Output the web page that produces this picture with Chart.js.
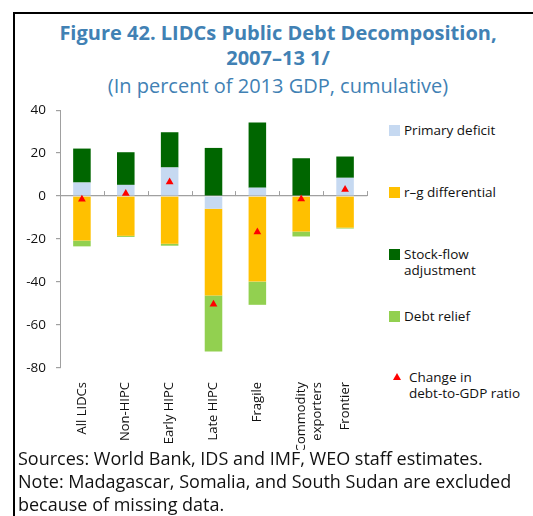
<!DOCTYPE html>
<html>
<head>
<meta charset="utf-8">
<script src="https://cdn.jsdelivr.net/npm/chart.js@4"></script>
<style>
  body { margin: 0; background: #fff; font-family: "Open Sans", sans-serif; }
  #wrap { position: relative; width: 533px; height: 516px; overflow: hidden; }
  #frame { position: absolute; left: 13px; top: 12px; width: 540px; height: 520px;
           border-left: 2px solid #000; border-top: 2px solid #000; }
  .title { position: absolute; left: 13px; width: 530px; text-align: center; color: #4181b4; }
  #t1 { top: 19px; font-size: 20px; font-weight: bold; }
  #t2 { top: 44px; font-size: 20px; font-weight: bold; }
  #t3 { top: 72px; font-size: 20px; }
  #chartBox { position: absolute; left: 0; top: 92px; width: 380px; height: 358px; }
  #legend { position: absolute; left: 389px; top: 122px; width: 140px; font-size: 13.5px; color: #111; }
  .item { position: absolute; left: 0; display: flex; align-items: flex-start; white-space: pre-line; line-height: 16px; }
  .sw { width: 11px; height: 11px; margin: 3px 4px 0 0; flex: none; }
  .tri { width: 0; height: 0; border-left: 4px solid transparent; border-right: 4px solid transparent;
         border-bottom: 7px solid #ff0000; margin: 4px 8px 0 4px; flex: none; }
  #notes { position: absolute; left: 18px; top: 447px; font-size: 18px; line-height: 23px; color: #111; }
</style>
</head>
<body>
<div id="wrap">
  <div id="frame"></div>
  <div class="title" id="t1">Figure 42. LIDCs Public Debt Decomposition,</div>
  <div class="title" id="t2">2007–13 1/</div>
  <div class="title" id="t3">(In percent of 2013 GDP, cumulative)</div>
  <div id="chartBox"><canvas id="c"></canvas></div>
  <div id="legend"></div>
  <div id="notes">Sources: World Bank, IDS and IMF, WEO staff estimates.<br>Note: Madagascar, Somalia, and South Sudan are excluded<br>because of missing data.</div>
</div>
<script>
const categories = ["All LIDCs", "Non-HIPC", "Early HIPC", "Late HIPC", "Fragile", ["Commodity", "exporters"], "Frontier"];
const primaryDeficit = [6.3, 5.2, 13.3, -5.9, 3.9, 0, 8.5];
const rgDifferential = [-20.7, -18.5, -22.2, -40.4, -39.8, -16.5, -14.7];
const stockFlow = [15.8, 15.2, 16.4, 22.4, 30.3, 17.6, 9.9];
const debtRelief = [-2.7, -0.5, -0.9, -26.0, -10.8, -2.3, -0.4];
const debtChange = [-1.5, 1.2, 6.6, -50.3, -16.7, -1.4, 3.1];
const yTicks = [40, 20, 0, -20, -40, -60, -80];

const legendNames = ["Primary deficit", "r–g differential", "Stock-flow\nadjustment", "Debt relief", "Change in\ndebt-to-GDP ratio"];
const legendTops = [0, 62, 124, 186, 247];

const font = "'Open Sans', sans-serif";

// small tick marks along the zero line, between categories
const zeroTicks = {
  id: "zeroTicks",
  afterDatasetsDraw(chart) {
    const x = chart.scales.x, y = chart.scales.y;
    const y0 = y.getPixelForValue(0);
    const ctx = chart.ctx;
    const n = categories.length;
    ctx.save();
    ctx.strokeStyle = "#a0a0a0";
    ctx.lineWidth = 1;
    for (let i = 1; i <= n; i++) {
      const px = Math.round(x.left + i * (x.right - x.left) / n) + 0.5;
      ctx.beginPath();
      ctx.moveTo(px, y0 - 5);
      ctx.lineTo(px, y0);
      ctx.stroke();
    }
    ctx.restore();
  }
};

const chart = new Chart(document.getElementById("c"), {
  data: {
    labels: categories,
    datasets: [
      { type: "line", label: legendNames[4], data: debtChange, showLine: false, stack: "marker",
        pointStyle: "triangle", pointRadius: 4.5, backgroundColor: "#ff0000", borderColor: "#ff0000", borderWidth: 0, order: 0 },
      { type: "bar", label: legendNames[0], data: primaryDeficit, backgroundColor: "#c6d9f1", stack: "s", order: 1 },
      { type: "bar", label: legendNames[1], data: rgDifferential, backgroundColor: "#ffc000", stack: "s", order: 1 },
      { type: "bar", label: legendNames[2], data: stockFlow, backgroundColor: "#006600", stack: "s", order: 1 },
      { type: "bar", label: legendNames[3], data: debtRelief, backgroundColor: "#92d050", stack: "s", order: 1 }
    ]
  },
  options: {
    responsive: true,
    maintainAspectRatio: false,
    animation: false,
    layout: { padding: { top: 2, right: 13, left: 0, bottom: 0 } },
    datasets: { bar: { barPercentage: 0.4, categoryPercentage: 1 } },
    plugins: { legend: { display: false }, tooltip: { enabled: false } },
    scales: {
      x: {
        stacked: true,
        grid: { display: false },
        border: { display: false },
        ticks: { minRotation: 90, maxRotation: 90, autoSkip: false, padding: 6, color: "#111",
                 font: { family: font, size: 13 } },
        afterFit(s) { s.height = 82; }
      },
      y: {
        stacked: true,
        min: -80, max: 40,
        afterBuildTicks(s) { s.ticks = yTicks.map(v => ({ value: v })); },
        grid: {
          color: c => (c.tick && c.tick.value === 0 ? "#a0a0a0" : "transparent"),
          tickColor: "#a0a0a0", tickLength: 4, lineWidth: 1.2
        },
        border: { display: true, color: "#a0a0a0" },
        ticks: { padding: 10, color: "#111", font: { family: font, size: 13.5 } },
        afterFit(s) { s.width = 60; }
      }
    }
  },
  plugins: [zeroTicks]
});

// legend built from the chart datasets
const legend = document.getElementById("legend");
const order = [1, 2, 3, 4, 0];
order.forEach((di, i) => {
  const ds = chart.data.datasets[di];
  const item = document.createElement("div");
  item.className = "item";
  item.style.top = legendTops[i] + "px";
  const mark = document.createElement("span");
  if (ds.type === "line") {
    mark.className = "tri";
  } else {
    mark.className = "sw";
    mark.style.background = ds.backgroundColor;
  }
  const txt = document.createElement("span");
  txt.textContent = ds.label;
  item.appendChild(mark);
  item.appendChild(txt);
  legend.appendChild(item);
});
</script>
</body>
</html>
